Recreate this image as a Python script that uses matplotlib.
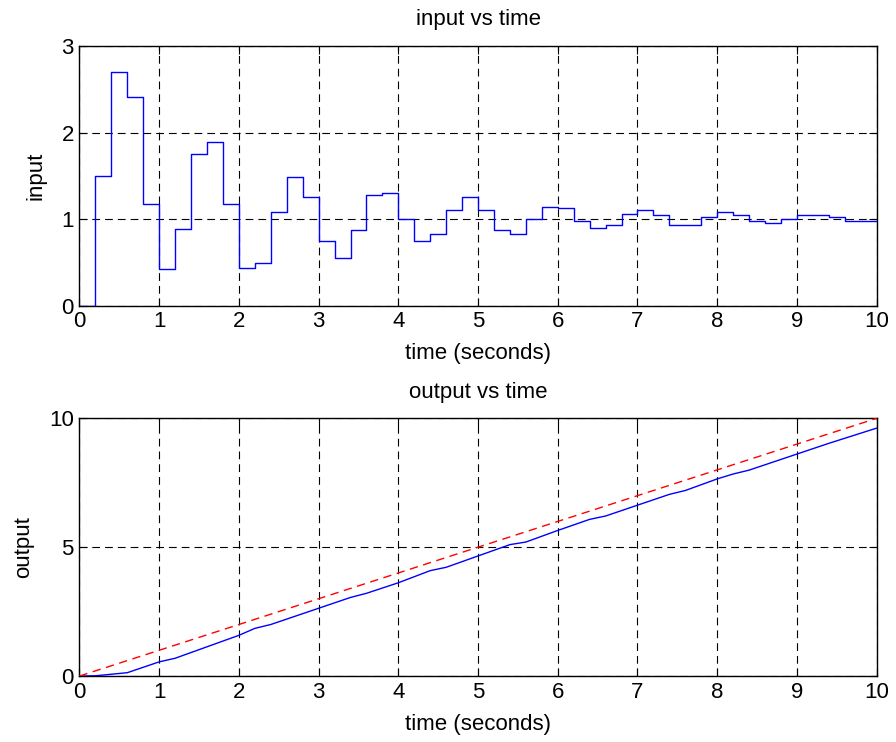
import numpy as np
import matplotlib
matplotlib.use("Agg")
import matplotlib.pyplot as plt

# sampled control input, held constant over each 0.2 s interval
t_step = np.linspace(0.0, 10.0, 51)
u_in = [0.0, 1.50, 2.70, 2.41, 1.17, 0.42, 0.89, 1.75, 1.89, 1.17,
        0.44, 0.49, 1.085, 1.49, 1.255, 0.745, 0.55, 0.87, 1.275, 1.30,
        1.0, 0.747, 0.828, 1.105, 1.25, 1.105, 0.87, 0.828, 1.0, 1.143,
        1.128, 0.978, 0.893, 0.935, 1.062, 1.105, 1.044, 0.935, 0.935, 1.02,
        1.085, 1.044, 0.978, 0.955, 1.0, 1.044, 1.044, 1.02, 0.978, 0.978]

# plant output vs. the ramp reference
t_out = [0.0, 0.2, 0.6, 1.0, 1.2, 2.0, 2.2, 2.4, 3.0, 3.4, 3.6, 4.0, 4.4, 4.6,
         5.4, 5.6, 6.0, 6.4, 6.6, 7.4, 7.6, 8.0, 8.2, 8.4, 9.4, 10.0]
y_out = [0.0, 0.01, 0.13, 0.55, 0.69, 1.58, 1.85, 2.0, 2.63, 3.05, 3.21, 3.62,
         4.09, 4.22, 5.10, 5.20, 5.65, 6.08, 6.21, 7.05, 7.20, 7.65, 7.84, 7.99,
         9.03, 9.62]
t_ref = [0.0, 10.0]
y_ref = [0.0, 10.0]

FS = 16
plt.rcParams['font.family'] = ['Liberation Sans', 'DejaVu Sans']
plt.rcParams['font.size'] = FS

fig = plt.figure(figsize=(8.96, 7.42), dpi=100)
ax1 = fig.add_axes([0.0887, 0.588, 0.8897, 0.350])
ax2 = fig.add_axes([0.0887, 0.0889, 0.8897, 0.3473])


def style(ax, yticks):
    ax.set_xlim(0, 10)
    ax.set_ylim(yticks[0], yticks[-1])
    ax.set_xticks(range(0, 11))
    ax.set_yticks(yticks)
    ax.tick_params(direction='in', top=True, right=True, length=6, width=0.8,
                   labelsize=FS, pad=4)
    ax.grid(True, color='black', linestyle=(0, (7, 4.5)), linewidth=0.8)
    for s in ax.spines.values():
        s.set_linewidth(1.0)
    ax.set_xlabel('time (seconds)', fontsize=FS, labelpad=8)


ax1.plot(t_step, np.r_[u_in, u_in[-1]], drawstyle='steps-post',
         color='#0000ff', lw=1.0, zorder=3)
style(ax1, [0, 1, 2, 3])
ax1.set_ylabel('input', fontsize=FS, labelpad=11)
ax1.set_title('input vs time', fontsize=FS, pad=15)

ax2.plot(t_out, y_out, color='#0000ff', lw=1.0, zorder=3)
ax2.plot(t_ref, y_ref, color='#ff0000', lw=1.0, linestyle=(0, (6, 4)), zorder=3)
style(ax2, [0, 5, 10])
ax2.set_ylabel('output', fontsize=FS, labelpad=11)
ax2.set_title('output vs time', fontsize=FS, pad=15)

fig.savefig('out.png', dpi=100)
